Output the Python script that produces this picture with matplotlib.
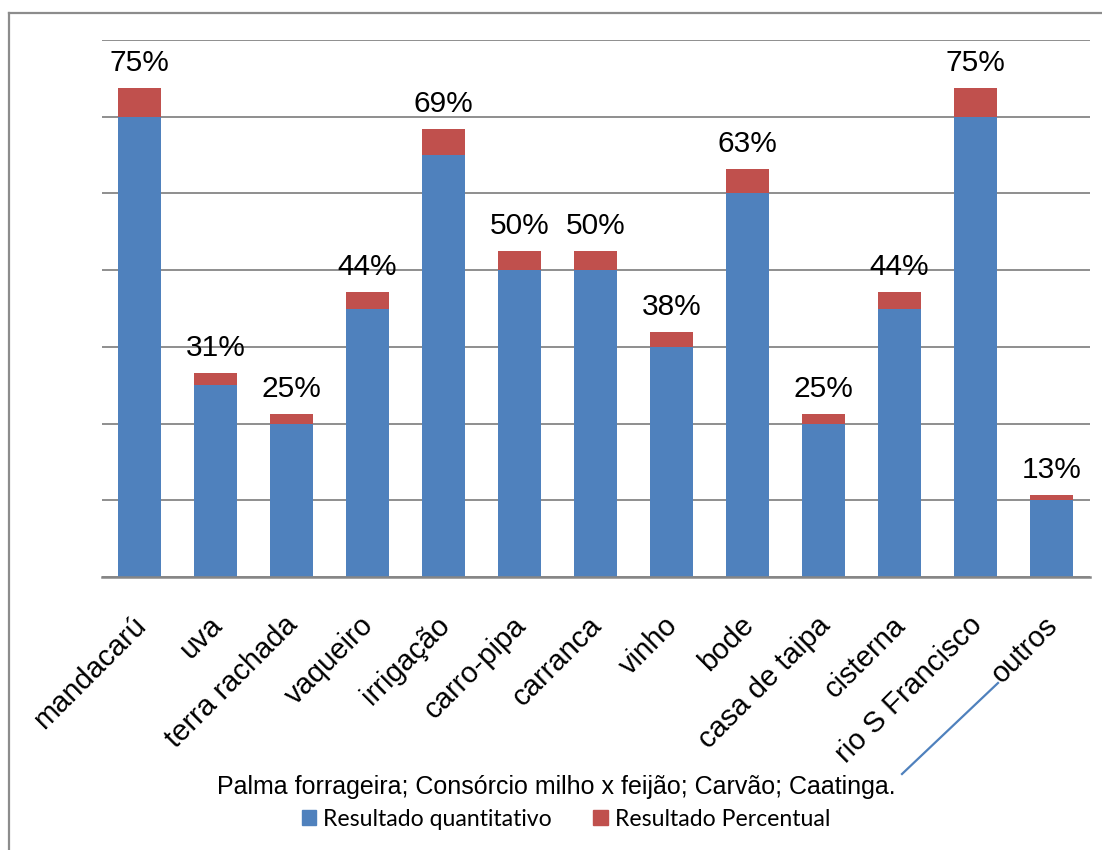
import matplotlib
matplotlib.use("Agg")
import matplotlib.pyplot as plt
from matplotlib.patches import Rectangle
from matplotlib.lines import Line2D

categories = ["mandacarú", "uva", "terra rachada", "vaqueiro", "irrigação", "carro-pipa",
              "carranca", "vinho", "bode", "casa de taipa", "cisterna", "rio S Francisco", "outros"]
quantitativo = [12, 5, 4, 7, 11, 8, 8, 6, 10, 4, 7, 12, 2]
percentual = [0.75, 0.31, 0.25, 0.44, 0.69, 0.50, 0.50, 0.38, 0.63, 0.25, 0.44, 0.75, 0.13]
pct_labels = ["75%", "31%", "25%", "44%", "69%", "50%", "50%", "38%", "63%", "25%", "44%", "75%", "13%"]
note_text = "Palma forrageira; Consórcio milho x feijão; Carvão; Caatinga."
legend_labels = ["Resultado quantitativo", "Resultado Percentual"]

BLUE = "#4F81BD"
RED = "#C0504D"
GRID = "#868686"

W, H = 1102, 850
fig = plt.figure(figsize=(W / 100, H / 100), dpi=100)
ax = fig.add_axes([101.5 / W, 1 - 577 / H, (1089.5 - 101.5) / W, (577 - 40) / H])

x = list(range(len(categories)))
ax.bar(x, quantitativo, width=0.566, color=BLUE, zorder=3)
ax.bar(x, percentual, width=0.566, bottom=quantitativo, color=RED, zorder=3)

ax.set_xlim(-0.5, len(categories) - 0.5)
ax.set_ylim(0, 14)
ax.set_yticks(range(0, 15, 2))
ax.yaxis.grid(True, color=GRID, linewidth=1.3, zorder=0)
ax.tick_params(axis="y", left=False, labelleft=False)
for s in ["top", "right", "left"]:
    ax.spines[s].set_visible(False)
ax.spines["bottom"].set_color(GRID)
ax.spines["bottom"].set_linewidth(1.8)
ax.spines["bottom"].set_zorder(4)

ax.set_xticks(x)
ax.set_xticklabels(categories, rotation=45, ha="right", va="center_baseline",
                   rotation_mode="anchor", fontsize=21, family="Liberation Sans")
ax.tick_params(axis="x", length=0, pad=30)

for xi, q, p, lab in zip(x, quantitativo, percentual, pct_labels):
    ax.annotate(lab, (xi, q + p), xytext=(0, 18), textcoords="offset points",
                ha="center", va="center", fontsize=21.5, family="Liberation Sans")

# note text and connector line for "outros"
fig.text(556 / W, 1 - 787 / H, note_text, ha="center", va="center",
         fontsize=18.0, family="Liberation Sans")
fig.add_artist(Line2D([998 / W, 902 / W], [1 - 683 / H, 1 - 774 / H],
                      color=BLUE, linewidth=1.6, transform=fig.transFigure))

# legend
handles = [Rectangle((0, 0), 1, 1, color=BLUE), Rectangle((0, 0), 1, 1, color=RED)]
fig.legend(handles, legend_labels, loc="center", bbox_to_anchor=(566 / W, 1 - 819 / H),
           ncol=2, frameon=False, prop={"family": "Lato", "size": 16.6},
           handlelength=0.62, handleheight=0.62, handletextpad=0.3, columnspacing=1.8)

# outer chart border (only top and left visible)
fig.add_artist(Line2D([9 / W, 1.0], [1 - 13 / H, 1 - 13 / H], color="#8c8c8c",
                      linewidth=1.6, transform=fig.transFigure))
fig.add_artist(Line2D([9 / W, 9 / W], [0, 1 - 13 / H], color="#8c8c8c",
                      linewidth=1.6, transform=fig.transFigure))

fig.savefig("out.png", dpi=100)
